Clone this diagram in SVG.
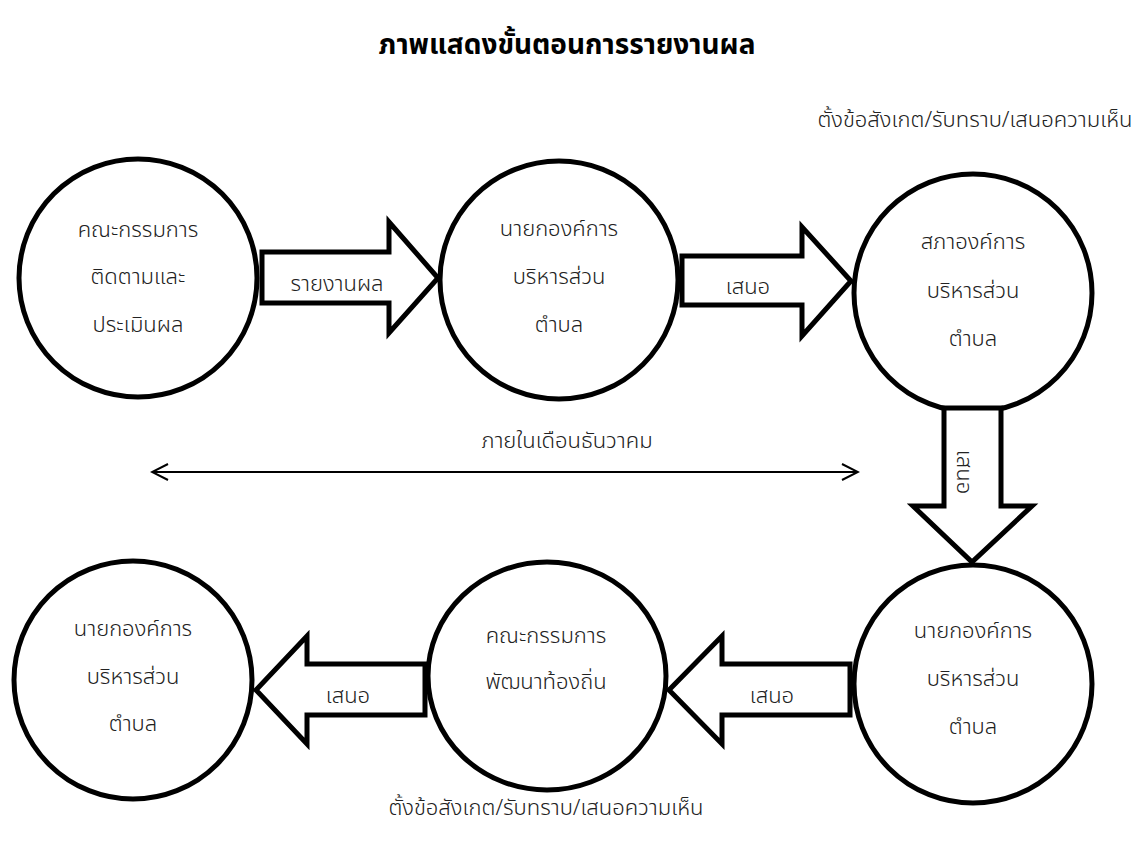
<svg xmlns="http://www.w3.org/2000/svg" width="1138" height="846" viewBox="0 0 1138 846">
<style>
text{font-family:"Noto Sans Thai","Leelawadee UI",Tahoma,"Noto Sans",sans-serif;font-size:22px;font-weight:300;fill:#222;text-anchor:middle}
.title{font-size:28px;font-weight:bold;fill:#000}
.node circle,.node ellipse{fill:#fff;stroke:#000;stroke-width:5}
.big{fill:#fff;stroke:#000;stroke-width:5;stroke-linejoin:miter}
.line{stroke:#000;stroke-width:2;fill:none}
</style>
<defs>
<marker id="chev" viewBox="0 0 20 20" refX="18" refY="10" markerWidth="20" markerHeight="20" markerUnits="userSpaceOnUse" orient="auto-start-reverse">
<path d="M2,2 L18,10 L2,18" fill="none" stroke="#000" stroke-width="2"/>
</marker>
</defs>
<rect width="1138" height="846" fill="#fff"/>
<text class="title" x="567" y="54">ภาพแสดงขั้นตอนการรายงานผล</text>
<text x="975" y="127">ตั้งข้อสังเกต/รับทราบ/เสนอความเห็น</text>
<text x="546" y="815">ตั้งข้อสังเกต/รับทราบ/เสนอความเห็น</text>
<g id="n1" class="node"><circle cx="138" cy="278" r="119"/><text x="138" y="237">คณะกรรมการ</text><text x="138" y="284">ติดตามและ</text><text x="138" y="332">ประเมินผล</text></g>
<g id="n2" class="node"><circle cx="559" cy="280" r="119"/><text x="559" y="236">นายกองค์การ</text><text x="559" y="284">บริหารส่วน</text><text x="559" y="332">ตำบล</text></g>
<g id="n3" class="node"><circle cx="973" cy="293" r="119"/><text x="973" y="249">สภาองค์การ</text><text x="973" y="298">บริหารส่วน</text><text x="973" y="346">ตำบล</text></g>
<g id="n4" class="node"><circle cx="973" cy="684" r="119"/><text x="973" y="638">นายกองค์การ</text><text x="973" y="686">บริหารส่วน</text><text x="973" y="734">ตำบล</text></g>
<g id="n5" class="node"><ellipse cx="547" cy="676" rx="119" ry="114"/><text x="546" y="643">คณะกรรมการ</text><text x="546" y="689">พัฒนาท้องถิ่น</text></g>
<g id="n6" class="node"><circle cx="133" cy="680" r="119"/><text x="133" y="636">นายกองค์การ</text><text x="133" y="684">บริหารส่วน</text><text x="133" y="731">ตำบล</text></g>
<g id="connectors">
<path class="big" d="M262,252 L389,252 L389,222 L438,278 L389,333 L389,303 L262,303 Z"/>
<text x="337" y="291">รายงานผล</text>
<path class="big" d="M682,256 L802,256 L802,227 L851,281 L802,336 L802,305 L682,305 Z"/>
<text x="748" y="294">เสนอ</text>
<path class="big" d="M944,408 L944,506 L913,506 L972,562 L1032,506 L1001,506 L1001,408 Z"/>
<text transform="translate(957,472) rotate(90)" x="0" y="0">เสนอ</text>
<path class="big" d="M850,664 L722,664 L722,636 L669,690 L722,744 L722,715 L850,715 Z"/>
<text x="772" y="703">เสนอ</text>
<path class="big" d="M425,664 L307,664 L307,636 L256,690 L307,744 L307,715 L425,715 Z"/>
<text x="348" y="703">เสนอ</text>
<line class="line" x1="152" y1="472" x2="858" y2="472" marker-start="url(#chev)" marker-end="url(#chev)"/>
<text x="567" y="448">ภายในเดือนธันวาคม</text>
</g>
</svg>
